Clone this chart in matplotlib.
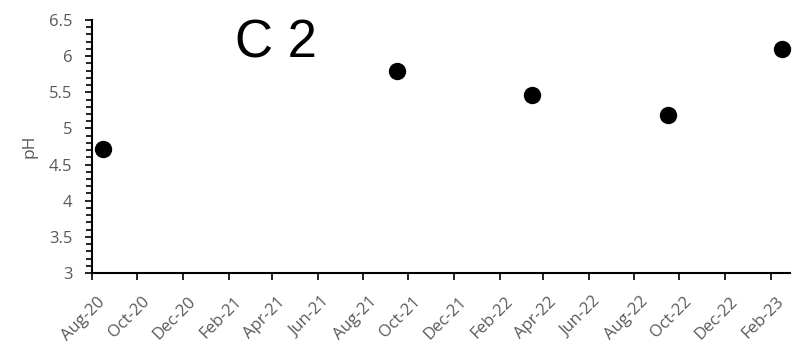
import datetime as dt
import matplotlib
matplotlib.use('Agg')
import matplotlib.pyplot as plt
import matplotlib.dates as mdates
import matplotlib.transforms as mtransforms
from matplotlib.ticker import MultipleLocator

# sample dates and pH readings for site C 2
dates = [dt.date(2020, 8, 16), dt.date(2021, 9, 16), dt.date(2022, 3, 17),
         dt.date(2022, 9, 16), dt.date(2023, 2, 16)]
ph = [4.72, 5.80, 5.46, 5.19, 6.10]

x_start = dt.date(2020, 8, 1)
x_end = dt.date(2023, 2, 27)

plt.rcParams['font.family'] = ['Open Sans', 'DejaVu Sans']
grey = '#595959'

fig = plt.figure(figsize=(7.96, 3.46), dpi=100)
ax = fig.add_axes([92 / 796, 73 / 346, 698 / 796, 253 / 346])

ax.plot(dates, ph, 'o', color='black', markersize=11.5, clip_on=False)

ax.set_xlim(x_start, x_end)
ax.set_ylim(3, 6.5)
ax.xaxis.set_major_locator(mdates.MonthLocator(bymonth=range(2, 13, 2)))
ax.xaxis.set_major_formatter(mdates.DateFormatter('%b-%y'))
ax.yaxis.set_major_locator(MultipleLocator(0.5))
ax.yaxis.set_minor_locator(MultipleLocator(0.1))
ax.yaxis.set_major_formatter(plt.FuncFormatter(lambda v, p: f'{v:g}'))

ax.tick_params(axis='both', colors='black', labelcolor=grey, labelsize=12,
               width=1.2)
ax.tick_params(axis='y', which='major', length=5, pad=9)
ax.tick_params(axis='y', which='minor', length=4, width=1.2)
ax.tick_params(axis='x', which='major', length=5, pad=10)

shift = mtransforms.ScaledTranslation(-8 / 100, 0, fig.dpi_scale_trans)
for lab in ax.get_xticklabels():
    lab.set_rotation(45)
    lab.set_ha('center')
    lab.set_transform(lab.get_transform() + shift)

for side in ('top', 'right'):
    ax.spines[side].set_visible(False)
for side in ('left', 'bottom'):
    ax.spines[side].set_linewidth(1.5)

ax.set_ylabel('pH', color=grey, fontsize=12.5)
ax.yaxis.set_label_coords(-55 / 698, 0.5)

fig.text(235 / 796, 1 - 57 / 346, 'C 2', family='Liberation Sans',
         fontsize=38, color='black', ha='left', va='baseline')

fig.savefig('out.png', dpi=100)
